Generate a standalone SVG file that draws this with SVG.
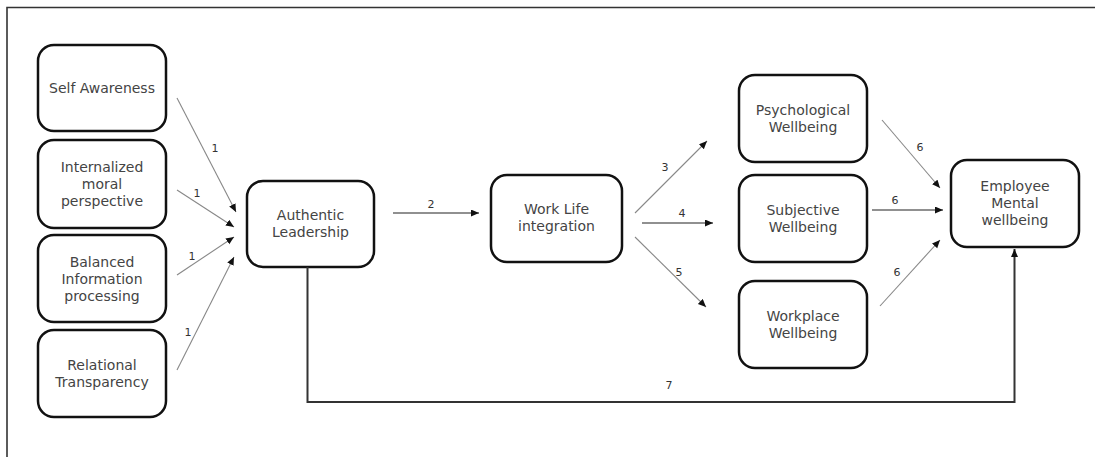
<svg xmlns="http://www.w3.org/2000/svg" width="1095" height="457" viewBox="0 0 1095 457">
<defs>
<marker id="ah" markerUnits="userSpaceOnUse" markerWidth="10" markerHeight="8" refX="8" refY="3.5" orient="auto">
<path d="M0,0 L8,3.5 L0,7 Z" fill="#111"/>
</marker>
<style>
.box{fill:#fff;stroke:#111;stroke-width:2.5}
.t{font-family:"DejaVu Sans",sans-serif;font-size:14px;fill:#444;text-anchor:middle}
.lbl{font-family:"DejaVu Sans",sans-serif;font-size:11px;fill:#333;text-anchor:middle}
.c{fill:none;stroke:#888;stroke-width:1.1}
.c2{fill:none;stroke:#222;stroke-width:1.1}
.c7{fill:none;stroke:#333;stroke-width:2}
.frame{fill:none;stroke:#333;stroke-width:1.6}
</style>
</defs>
<rect width="1095" height="457" fill="#fff"/>
<path class="frame" d="M7,457 V7.5 H1095"/>

<g id="self-awareness"><rect class="box" x="38" y="45" width="128" height="86" rx="16"/><text class="t" x="102" y="93">Self Awareness</text></g>
<g id="internalized"><rect class="box" x="38" y="140" width="128" height="88" rx="16"/><text class="t" x="102" y="172">Internalized</text><text class="t" x="102" y="189">moral</text><text class="t" x="102" y="206">perspective</text></g>
<g id="balanced"><rect class="box" x="38" y="235" width="128" height="87" rx="16"/><text class="t" x="102" y="267">Balanced</text><text class="t" x="102" y="284">Information</text><text class="t" x="102" y="301">processing</text></g>
<g id="relational"><rect class="box" x="38" y="330" width="128" height="87" rx="16"/><text class="t" x="102" y="370">Relational</text><text class="t" x="102" y="387">Transparency</text></g>
<g id="authentic"><rect class="box" x="247" y="181" width="127" height="86" rx="16"/><text class="t" x="310.5" y="220">Authentic</text><text class="t" x="310.5" y="237">Leadership</text></g>
<g id="worklife"><rect class="box" x="491" y="175" width="131" height="87" rx="16"/><text class="t" x="556.5" y="214">Work Life</text><text class="t" x="556.5" y="231">integration</text></g>
<g id="psychological"><rect class="box" x="739" y="75" width="128" height="87" rx="16"/><text class="t" x="803" y="115">Psychological</text><text class="t" x="803" y="132">Wellbeing</text></g>
<g id="subjective"><rect class="box" x="739" y="175" width="128" height="87" rx="16"/><text class="t" x="803" y="215">Subjective</text><text class="t" x="803" y="232">Wellbeing</text></g>
<g id="workplace"><rect class="box" x="739" y="281" width="128" height="87" rx="16"/><text class="t" x="803" y="321">Workplace</text><text class="t" x="803" y="338">Wellbeing</text></g>
<g id="employee"><rect class="box" x="951" y="160" width="128" height="87" rx="16"/><text class="t" x="1015" y="191">Employee</text><text class="t" x="1015" y="208">Mental</text><text class="t" x="1015" y="225">wellbeing</text></g>

<g id="connectors">
<line class="c" x1="177" y1="98" x2="236" y2="212" marker-end="url(#ah)"/>
<line class="c" x1="177" y1="190" x2="234" y2="227" marker-end="url(#ah)"/>
<line class="c" x1="177" y1="275" x2="234" y2="237" marker-end="url(#ah)"/>
<line class="c" x1="177" y1="370" x2="234" y2="257" marker-end="url(#ah)"/>
<line class="c2" x1="393" y1="213" x2="479" y2="213" marker-end="url(#ah)"/>
<line class="c" x1="635" y1="213" x2="707" y2="141" marker-end="url(#ah)"/>
<line class="c2" x1="642" y1="223" x2="713" y2="223" marker-end="url(#ah)"/>
<line class="c" x1="635" y1="237" x2="706" y2="307" marker-end="url(#ah)"/>
<line class="c" x1="882" y1="120" x2="940" y2="188" marker-end="url(#ah)"/>
<line class="c2" x1="872" y1="210" x2="943" y2="210" marker-end="url(#ah)"/>
<line class="c" x1="880" y1="306" x2="940" y2="240" marker-end="url(#ah)"/>
<path class="c7" d="M307.5,267 V402 H1014.5 V249" marker-end="url(#ah)"/>
<text class="lbl" x="215" y="152">1</text>
<text class="lbl" x="197" y="197">1</text>
<text class="lbl" x="192" y="260">1</text>
<text class="lbl" x="188" y="336">1</text>
<text class="lbl" x="431" y="208">2</text>
<text class="lbl" x="665" y="171">3</text>
<text class="lbl" x="682" y="217">4</text>
<text class="lbl" x="679" y="276">5</text>
<text class="lbl" x="920" y="151">6</text>
<text class="lbl" x="895" y="204">6</text>
<text class="lbl" x="897" y="276">6</text>
<text class="lbl" x="669" y="389">7</text>
</g>
</svg>
